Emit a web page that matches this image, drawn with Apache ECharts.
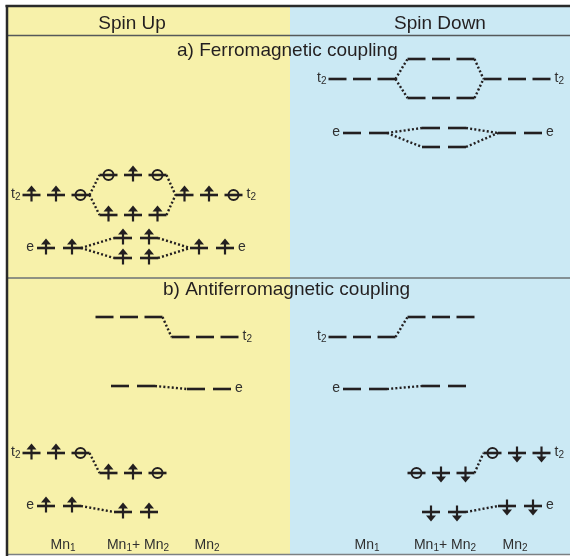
<!DOCTYPE html>
<html>
<head>
<meta charset="utf-8">
<script src="https://cdn.jsdelivr.net/npm/echarts@6/dist/echarts.min.js"></script>
<style>html,body{margin:0;padding:0;background:#fff}#c{width:570px;height:556px}</style>
</head>
<body>
<div id="c"></div>
<script>
// ---------- DATA ----------
// Column names (x categories of each spin panel)
const columnNames = ['Mn1', 'Mn1+ Mn2', 'Mn2'];
const spinTitles = ['Spin Up', 'Spin Down'];
const couplingTitles = ['a) Ferromagnetic coupling', 'b) Antiferromagnetic coupling'];

// Each level: [column index, energy (arb. units), occupancy per orbital]
// occupancy: u = spin-up electron, d = spin-down electron, o = hole, - = empty
const ferroUpT2   = [[0, 361, 'uuo'], [1, 381, 'ouo'], [1, 341, 'uuu'], [2, 361, 'uuo']];
const ferroUpE    = [[0, 308, 'uu'],  [1, 318, 'uu'],  [1, 298, 'uu'],  [2, 308, 'uu']];
const ferroDownT2 = [[0, 477, '---'], [1, 497, '---'], [1, 458, '---'], [2, 477, '---']];
const ferroDownE  = [[0, 423, '--'],  [1, 428, '--'],  [1, 409, '--'],  [2, 423, '--']];

const antiUpT2Empty   = [[1, 239, '---'], [2, 219, '---']];
const antiUpEEmpty    = [[1, 170, '--'],  [2, 167, '--']];
const antiUpT2Filled  = [[0, 103, 'uuo'], [1, 83, 'uuo']];
const antiUpEFilled   = [[0, 50, 'uu'],   [1, 44, 'uu']];
const antiDownT2Empty = [[0, 219, '---'], [1, 239, '---']];
const antiDownEEmpty  = [[0, 167, '--'],  [1, 170, '--']];
const antiDownT2Filled= [[1, 83, 'odd'],  [2, 103, 'odd']];
const antiDownEFilled = [[1, 44, 'dd'],   [2, 50, 'dd']];

// ---------- LAYOUT ----------
const INK = '#231f20';
const TXT = '#2f2f2f';
const FONT = '"Liberation Sans", Arial, Helvetica, sans-serif';
const W = 570, H = 556;
const columnX = { up: [56, 133, 209], down: [362, 441, 517] };
const columnLabelX = { up: [63, 138, 207], down: [367, 445, 515] };
const orbSpacing = { t2: 24.5, e: 26 };
const orbShift = { t2: 0, e: 3 };
const HW = 9;

const sets = [
  { spin: 'up', orb: 't2', levels: ferroUpT2 },
  { spin: 'up', orb: 'e', levels: ferroUpE },
  { spin: 'down', orb: 't2', levels: ferroDownT2 },
  { spin: 'down', orb: 'e', levels: ferroDownE },
  { spin: 'up', orb: 't2', levels: antiUpT2Empty, shift: -4 },
  { spin: 'up', orb: 'e', levels: antiUpEEmpty, shift: -3 },
  { spin: 'up', orb: 't2', levels: antiUpT2Filled },
  { spin: 'up', orb: 'e', levels: antiUpEFilled },
  { spin: 'down', orb: 't2', levels: antiDownT2Empty },
  { spin: 'down', orb: 'e', levels: antiDownEEmpty },
  { spin: 'down', orb: 't2', levels: antiDownT2Filled },
  { spin: 'down', orb: 'e', levels: antiDownEFilled }
];

function orbitalXs(spin, orb, col, n, shift) {
  const c = columnX[spin][col] + orbShift[orb] + (shift || 0);
  const xs = [];
  for (let i = 0; i < n; i++) xs.push(c + (i - (n - 1) / 2) * orbSpacing[orb]);
  return xs;
}

const groups = [];
const links = [];
sets.forEach(s => {
  const gs = s.levels.map(l => {
    const xs = orbitalXs(s.spin, s.orb, l[0], l[2].length, s.shift);
    const g = { spin: s.spin, orb: s.orb, col: l[0], E: l[1], occ: l[2], xs };
    groups.push(g);
    return g;
  });
  gs.forEach(a => gs.forEach(b => {
    if (b.col === a.col + 1) {
      links.push([a.xs[a.xs.length - 1] + HW, a.E, b.xs[0] - HW, b.E]);
    }
  }));
});

// Turn "Mn1" into rich text with digit subscripts
function subText(t) {
  let out = '';
  const re = /(\d+)|([^\d]+)/g;
  let m;
  while ((m = re.exec(t)) !== null) {
    if (m[1]) out += '{s|' + m[1] + '}';
    else out += '{m|' + m[2] + '}';
  }
  return out;
}
const richSub = {
  m: { fontSize: 14, lineHeight: 16, fontFamily: FONT, fill: TXT },
  s: { fontSize: 10, lineHeight: 2, verticalAlign: 'bottom', fontFamily: FONT, fill: TXT }
};

function renderLevel(params, api) {
  const g = groups[params.dataIndex];
  const children = [];
  g.xs.forEach((x, i) => {
    const a = api.coord([x - HW, g.E]), b = api.coord([x + HW, g.E]);
    children.push({ type: 'line', shape: { x1: a[0], y1: a[1], x2: b[0], y2: b[1] },
      style: { stroke: INK, lineWidth: 2.6 } });
    const c = api.coord([x, g.E]);
    const m = g.occ[i];
    if (m === 'u' || m === 'd') {
      const s = m === 'u' ? -1 : 1;
      children.push({ type: 'line', shape: { x1: c[0], y1: c[1] - 6.5 * s, x2: c[0], y2: c[1] + 4 * s },
        style: { stroke: INK, lineWidth: 2.2 } });
      children.push({ type: 'polygon', shape: { points: [[c[0] - 5, c[1] + 3.5 * s], [c[0] + 5, c[1] + 3.5 * s], [c[0], c[1] + 9.5 * s]] },
        style: { fill: INK } });
    } else if (m === 'o') {
      children.push({ type: 'circle', shape: { cx: c[0], cy: c[1], r: 5 },
        style: { fill: 'none', stroke: INK, lineWidth: 2 } });
    }
  });
  if (g.col !== 1) {
    const left = g.col === 0;
    const gap = left ? (g.orb === 'e' ? 3 : 2) : 4;
    const p = left ? api.coord([g.xs[0] - HW, g.E]) : api.coord([g.xs[g.xs.length - 1] + HW, g.E]);
    children.push({ type: 'text', style: {
      text: subText(g.orb), rich: richSub, x: p[0] + (left ? -gap : gap), y: p[1] - 1,
      align: left ? 'right' : 'left', verticalAlign: 'middle', fontSize: 14, lineHeight: 16, fontFamily: FONT, fill: TXT } });
  }
  return { type: 'group', children };
}

function renderLink(params, api) {
  const l = links[params.dataIndex];
  const a = api.coord([l[0], l[1]]), b = api.coord([l[2], l[3]]);
  return { type: 'line', shape: { x1: a[0], y1: a[1], x2: b[0], y2: b[1] },
    style: { stroke: INK, lineWidth: 2.4, lineDash: [2, 2.2], fill: 'none' } };
}

const colLabels = [];
['up', 'down'].forEach(sp => columnNames.forEach((n, i) => colLabels.push([columnLabelX[sp][i], 11, n])));
function renderColLabel(params, api) {
  const d = colLabels[params.dataIndex];
  const p = api.coord([d[0], d[1]]);
  return { type: 'text', style: { text: subText(d[2]), rich: richSub, x: p[0], y: p[1],
    align: 'center', verticalAlign: 'middle', fontSize: 14, lineHeight: 16, fontFamily: FONT, fill: TXT } };
}

const titleStyle = (text, x, y, align) => ({ type: 'text', x, y, style: { text, font: '19px ' + FONT, fill: INK, textAlign: align || 'center', textVerticalAlign: 'middle' } });

const chart = echarts.init(document.getElementById('c'), null, { renderer: 'canvas' });
chart.setOption({
  animation: false,
  grid: { left: 0, right: 0, top: 0, bottom: 0 },
  xAxis: { type: 'value', min: 0, max: W, show: false },
  yAxis: { type: 'value', min: 0, max: H, show: false },
  graphic: [
    { type: 'rect', z: -10, shape: { x: 7, y: 6, width: 283, height: 549 }, style: { fill: '#f7f1aa' } },
    { type: 'rect', z: -10, shape: { x: 290, y: 6, width: 280, height: 549 }, style: { fill: '#cbe9f4' } },
    { type: 'line', z: -5, shape: { x1: 7, y1: 35.5, x2: 570, y2: 35.5 }, style: { stroke: '#55595a', lineWidth: 1.6 } },
    { type: 'line', z: -5, shape: { x1: 7, y1: 278, x2: 570, y2: 278 }, style: { stroke: '#6d7274', lineWidth: 1.6 } },
    { type: 'line', z: -5, shape: { x1: 7, y1: 554.5, x2: 570, y2: 554.5 }, style: { stroke: '#7b8082', lineWidth: 1.5 } },
    { type: 'line', z: -4, shape: { x1: 5.5, y1: 6, x2: 570, y2: 6 }, style: { stroke: '#2a2a2a', lineWidth: 2.5 } },
    { type: 'line', z: -4, shape: { x1: 7, y1: 5, x2: 7, y2: 556 }, style: { stroke: '#2a2a2a', lineWidth: 2.5 } },
    titleStyle(spinTitles[0], 132, 23.5),
    titleStyle(spinTitles[1], 440, 23.5),
    titleStyle(couplingTitles[0], 177, 51, 'left'),
    titleStyle(couplingTitles[1], 163, 290, 'left')
  ],
  series: [
    { type: 'custom', name: 'links', renderItem: renderLink, data: links.map(l => [l[0], l[1]]), z: 2 },
    { type: 'custom', name: 'levels', renderItem: renderLevel, data: groups.map(g => [g.xs[0], g.E]), z: 3 },
    { type: 'custom', name: 'columns', renderItem: renderColLabel, data: colLabels.map(c => [c[0], c[1]]), z: 3 }
  ]
});
</script>
</body>
</html>
